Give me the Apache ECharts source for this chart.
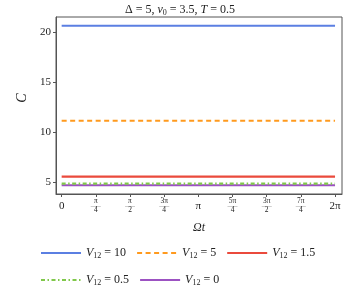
<!DOCTYPE html>
<html><head><meta charset="utf-8">
<script src="https://cdn.jsdelivr.net/npm/echarts@6/dist/echarts.min.js"></script>
<style>html,body{margin:0;padding:0;background:#fff}#c{width:360px;height:295px}</style>
</head><body><div id="c"></div>
<script>
var PI = Math.PI;
var seriesNames = ['10', '5', '1.5', '0.5', '0'];
var seriesValues = [20.6, 11.13, 5.56, 4.86, 4.7];
var seriesColors = ['#5b7fe2', '#ff9a1e', '#ea4a3c', '#80c84a', '#9c52c2'];
var xSamples = [0, PI / 2, PI, 3 * PI / 2, 2 * PI];
var xTickValues = [0, PI/4, PI/2, 3*PI/4, PI, 5*PI/4, 3*PI/2, 7*PI/4, 2*PI];
var xTickLabels = ['0', 'π/4', 'π/2', '3π/4', 'π', '5π/4', '3π/2', '7π/4', '2π'];
var yTickValues = [5, 10, 15, 20];

var FONT = 'Liberation Serif';
var lineTypes = ['solid', [5, 3.5], 'solid', [4, 2.5, 1.5, 2.5], 'solid'];

function fmtX(v) {
  var idx = -1;
  for (var i = 0; i < xTickValues.length; i++) if (Math.abs(xTickValues[i] - v) < 1e-6) idx = i;
  if (idx < 0) return '';
  var s = xTickLabels[idx];
  if (s.indexOf('/') >= 0) {
    var p = s.split('/');
    return '{n|' + p[0] + '}\n{b|——}\n{d|' + p[1] + '}';
  }
  return '{w|' + s + '}';
}

var series = seriesNames.map(function (n, i) {
  return {
    name: n,
    type: 'line',
    symbol: 'none',
    silent: true,
    data: xSamples.map(function (x) { return [x, seriesValues[i]]; }),
    lineStyle: { color: seriesColors[i], width: 2.2, type: lineTypes[i] },
    itemStyle: { color: seriesColors[i] },
    z: 10 - i
  };
});

var legendRich = {
  i: { fontFamily: FONT, fontStyle: 'italic', fontSize: 12, color: '#222' },
  s: { fontFamily: FONT, fontSize: 8, color: '#222', padding: [6, 0, 0, 0] },
  t: { fontFamily: FONT, fontSize: 12, color: '#222' }
};
function legendFmt(name) { return '{i|V}{s|12}{t| = ' + name + '}'; }

var chart = echarts.init(document.getElementById('c'), null, { renderer: 'canvas' });
chart.setOption({
  animation: false,
  backgroundColor: '#fff',
  title: {
    text: '{t|Δ = 5, }{i|ν}{s|0}{t| = 3.5, }{i|T}{t| = 0.5}',
    left: 'center', top: -2,
    textStyle: {
      fontWeight: 'normal',
      rich: {
        t: { fontFamily: FONT, fontSize: 12, fontWeight: 'normal', color: '#222' },
        i: { fontFamily: FONT, fontStyle: 'italic', fontWeight: 'normal', fontSize: 12, color: '#222' },
        s: { fontFamily: FONT, fontSize: 8, fontWeight: 'normal', color: '#222', padding: [6, 0, 0, 0] }
      }
    }
  },
  graphic: [{
    type: 'text', x: 22, y: 98, rotation: Math.PI / 2,
    style: { text: 'C', fontFamily: FONT, fontStyle: 'italic', fontSize: 14, fill: '#222', align: 'center', verticalAlign: 'middle' }
  }],
  grid: { left: 56, right: 18, top: 17, bottom: 101, show: true, borderColor: '#555', borderWidth: 1 },
  xAxis: {
    type: 'value', min: -0.13, max: 2 * PI + 0.16,
    name: 'Ωt', nameLocation: 'middle', nameGap: 28,
    nameTextStyle: { fontFamily: FONT, fontStyle: 'italic', fontSize: 12, color: '#222' },
    axisLine: { show: true, onZero: false, lineStyle: { color: '#555' } },
    axisTick: { show: true, inside: false, length: 3, customValues: xTickValues, lineStyle: { color: '#555' } },
    splitLine: { show: false },
    axisLabel: {
      customValues: xTickValues, margin: 4, formatter: fmtX,
      rich: {
        n: { fontFamily: FONT, fontSize: 7.5, color: '#222', lineHeight: 6, align: 'center' },
        b: { fontFamily: FONT, fontSize: 5, color: '#222', lineHeight: 3, align: 'center' },
        d: { fontFamily: FONT, fontSize: 7.5, color: '#222', lineHeight: 7, align: 'center' },
        w: { fontFamily: FONT, fontSize: 11, color: '#222', lineHeight: 16 }
      }
    }
  },
  yAxis: {
    type: 'value', min: 3.83, max: 21.47,
    axisLine: { show: true, onZero: false, lineStyle: { color: '#555' } },
    axisTick: { show: true, inside: false, length: 3, customValues: yTickValues, lineStyle: { color: '#555' } },
    splitLine: { show: false },
    axisLabel: { customValues: yTickValues, margin: 5, fontFamily: FONT, fontSize: 11, color: '#222' }
  },
  legend: [
    {
      data: seriesNames.slice(0, 3), left: 35, top: 242, itemWidth: 40, itemHeight: 10, itemGap: 10,
      itemStyle: { opacity: 0 },
      formatter: legendFmt, textStyle: { rich: legendRich }
    },
    {
      data: seriesNames.slice(3), left: 35, top: 269, itemWidth: 40, itemHeight: 10, itemGap: 10,
      itemStyle: { opacity: 0 },
      formatter: legendFmt, textStyle: { rich: legendRich }
    }
  ],
  series: series
});
</script></body></html>
